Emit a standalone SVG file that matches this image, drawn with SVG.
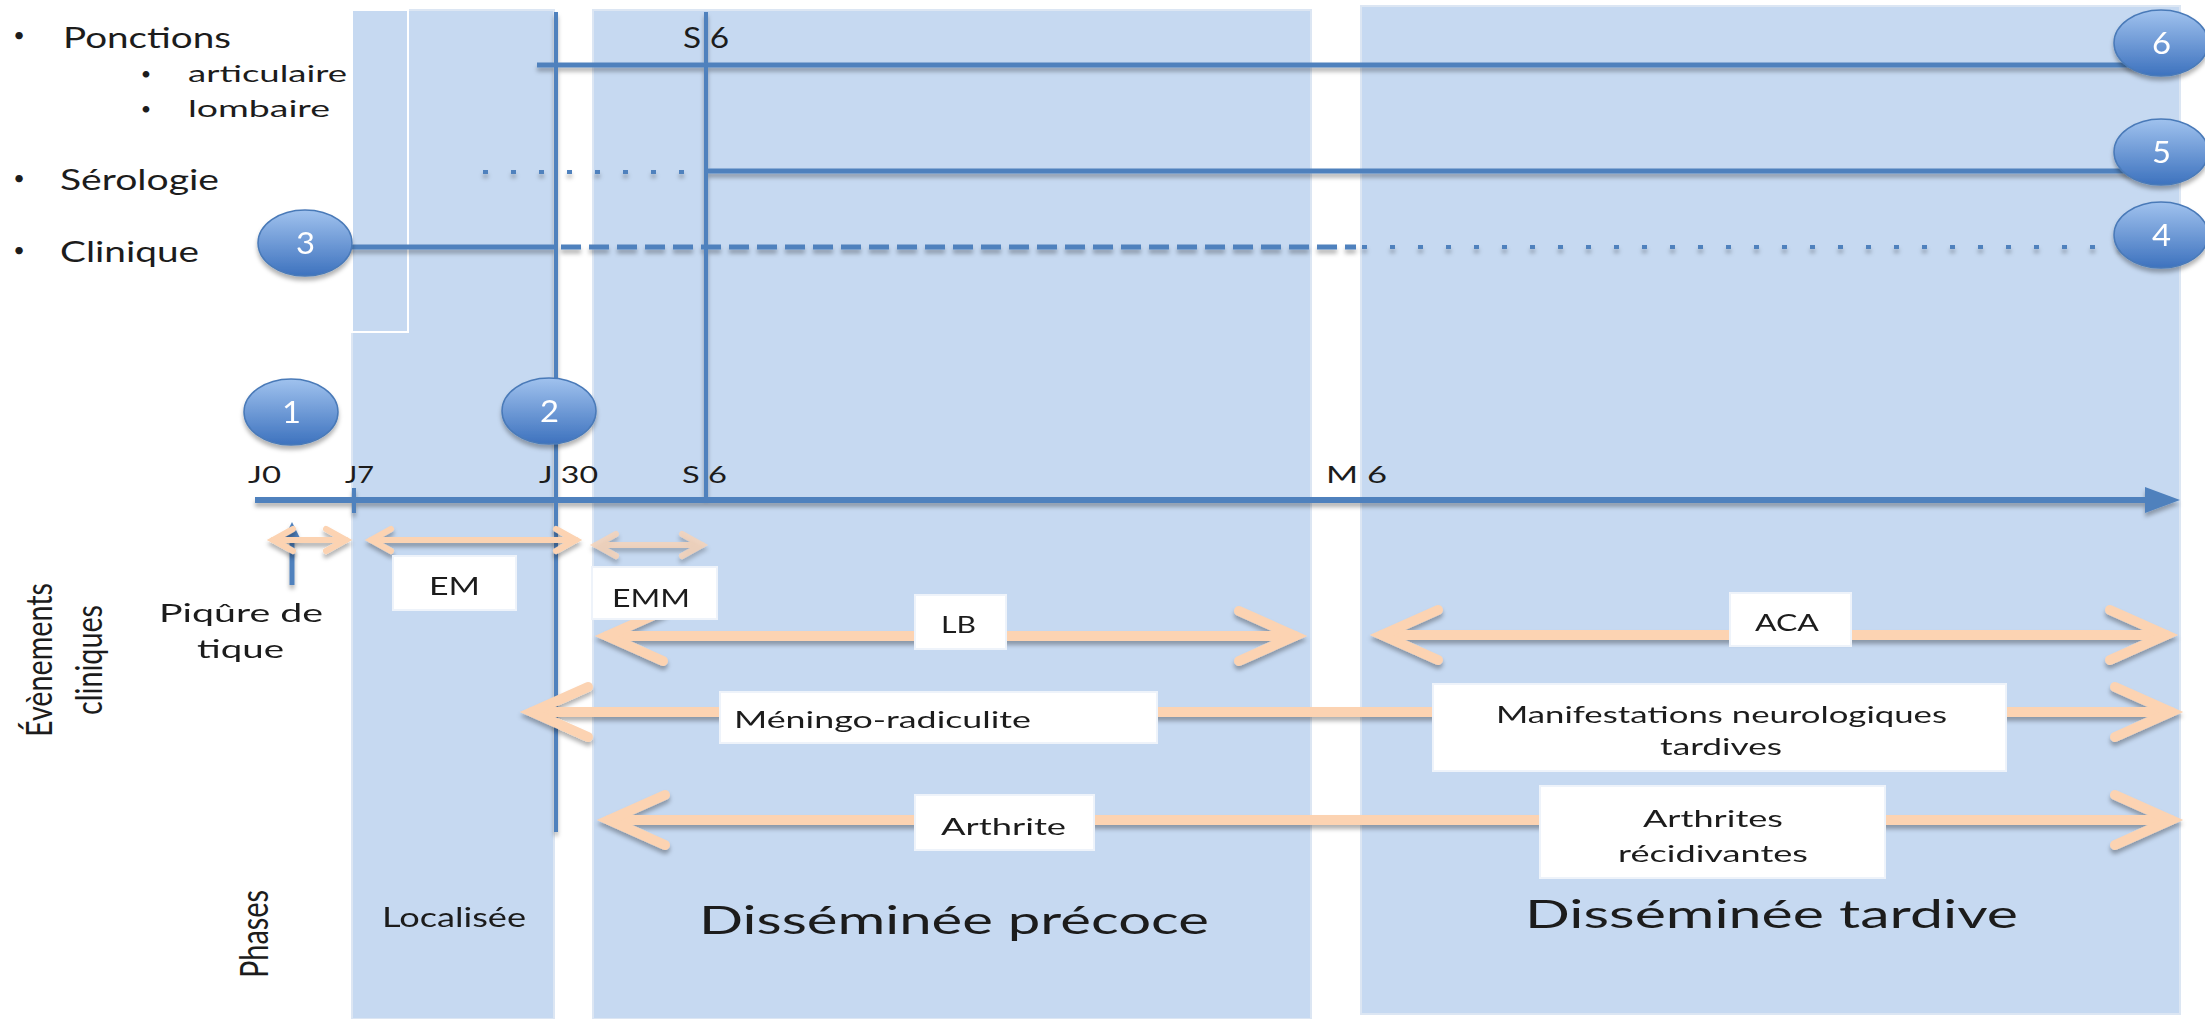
<svg xmlns="http://www.w3.org/2000/svg" width="2205" height="1019" viewBox="0 0 2205 1019">
<defs>
<style>
.panel{fill:#C6D9F1;stroke:#DCE6F3;stroke-width:2}
.t{font-family:Lato,'Liberation Sans',sans-serif;fill:#1c1c1c}
.bl{stroke:#4F81BD;fill:none}
.pe{stroke:#FCD3B2;fill:none;stroke-linecap:round;stroke-linejoin:miter}
.box{fill:#fff;stroke:#EEF3FA;stroke-width:2}
.num{font-family:Lato,'Liberation Sans',sans-serif;fill:#fff;font-size:30px}
.c{fill:url(#cg);stroke:#4A7AB8;stroke-width:1.5}
</style>
<filter id="sh" filterUnits="userSpaceOnUse" x="0" y="0" width="2205" height="1019">
<feDropShadow dx="0" dy="4" stdDeviation="2" flood-color="#000" flood-opacity="0.3"/>
</filter>
<linearGradient id="cg" x1="0" y1="0" x2="0" y2="1">
<stop offset="0" stop-color="#A0C2EE"/><stop offset="1" stop-color="#3D72BE"/>
</linearGradient>
</defs>
<rect width="2205" height="1019" fill="#fff"/>

<g id="phases">
<rect id="p-localisee" class="panel" x="352" y="10" width="202" height="1009"/>
<rect x="352" y="10" width="56" height="322" fill="#C6D9F1" stroke="#fff" stroke-width="2"/>
<rect id="p-precoce" class="panel" x="593" y="10" width="718" height="1009"/>
<rect id="p-tardive" class="panel" x="1361" y="6" width="819" height="1008"/>
</g>

<g id="connectors">
<g class="bl" filter="url(#sh)">
<line x1="556" y1="12" x2="556" y2="832" stroke-width="4"/>
<line x1="706" y1="12" x2="706" y2="500" stroke-width="4"/>
<line x1="537" y1="65" x2="2160" y2="65" stroke-width="5"/>
<line x1="483" y1="172" x2="690" y2="172" stroke-width="4" stroke-dasharray="5 23"/>
<line x1="708" y1="171" x2="2160" y2="171" stroke-width="5"/>
<line x1="305" y1="247" x2="558" y2="247" stroke-width="5"/>
<line x1="561" y1="247" x2="1356" y2="247" stroke-width="5" stroke-dasharray="20 8"/>
<line x1="1362" y1="247" x2="2150" y2="247" stroke-width="4" stroke-dasharray="5 23"/>
<line x1="255" y1="500" x2="2150" y2="500" stroke-width="6"/>
<polygon points="2145,487 2180,500 2145,513" fill="#4F81BD" stroke="none"/>
<line x1="354" y1="488" x2="354" y2="513" stroke-width="4"/>
<line x1="292" y1="585" x2="292" y2="535" stroke-width="5"/>
<polygon points="284,538 292,522 300,538" fill="#4F81BD" stroke="none"/>
</g>
<g class="pe" filter="url(#sh)">
<g stroke-width="6">
<line x1="273" y1="540" x2="346" y2="540"/>
<polyline points="293,529 273,540 293,551"/>
<polyline points="326,529 346,540 326,551"/>
<line x1="371" y1="540" x2="576" y2="540"/>
<polyline points="391,529 371,540 391,551"/>
<polyline points="556,529 576,540 556,551"/>
<g opacity="0.75">
<line x1="596" y1="545" x2="702" y2="545"/>
<polyline points="616,534 596,545 616,556"/>
<polyline points="682,534 702,545 682,556"/>
</g>
</g>
<g stroke-width="10">
<line x1="607" y1="636" x2="1295" y2="636"/>
<polyline points="663,611 607,636 663,661"/>
<polyline points="1239,611 1295,636 1239,661"/>
<line x1="1382" y1="635" x2="2166" y2="635"/>
<polyline points="1438,610 1382,635 1438,660"/>
<polyline points="2110,610 2166,635 2110,660"/>
<line x1="532" y1="712" x2="2171" y2="712"/>
<polyline points="588,687 532,712 588,737"/>
<polyline points="2115,687 2171,712 2115,737"/>
<line x1="609" y1="820" x2="2171" y2="820"/>
<polyline points="665,795 609,820 665,845"/>
<polyline points="2115,795 2171,820 2115,845"/>
</g>
</g>
</g>

<g id="markers" filter="url(#sh)">
<g id="n1"><ellipse class="c" cx="291" cy="412" rx="47" ry="33"/><text class="num" x="282" y="423" textLength="19" lengthAdjust="spacingAndGlyphs">1</text></g>
<g id="n2"><ellipse class="c" cx="549" cy="411" rx="47" ry="33"/><text class="num" x="540" y="422" textLength="19" lengthAdjust="spacingAndGlyphs">2</text></g>
<g id="n3"><ellipse class="c" cx="305" cy="243" rx="47" ry="33"/><text class="num" x="296" y="254" textLength="19" lengthAdjust="spacingAndGlyphs">3</text></g>
<g id="n4"><ellipse class="c" cx="2161" cy="235" rx="47" ry="33"/><text class="num" x="2152" y="246" textLength="19" lengthAdjust="spacingAndGlyphs">4</text></g>
<g id="n5"><ellipse class="c" cx="2161" cy="152" rx="47" ry="33"/><text class="num" x="2152" y="163" textLength="19" lengthAdjust="spacingAndGlyphs">5</text></g>
<g id="n6"><ellipse class="c" cx="2161" cy="43" rx="47" ry="33"/><text class="num" x="2152" y="54" textLength="19" lengthAdjust="spacingAndGlyphs">6</text></g>
</g>

<g id="left-list" class="t">
<text x="19" y="42" font-size="20" text-anchor="middle">•</text>
<text x="63" y="48" font-size="28" textLength="168" lengthAdjust="spacingAndGlyphs">Ponctions</text>
<text x="146" y="80" font-size="18" text-anchor="middle">•</text>
<text x="188" y="82" font-size="24" textLength="159" lengthAdjust="spacingAndGlyphs">articulaire</text>
<text x="146" y="115" font-size="18" text-anchor="middle">•</text>
<text x="188" y="117" font-size="24" textLength="142" lengthAdjust="spacingAndGlyphs">lombaire</text>
<text x="19" y="185" font-size="20" text-anchor="middle">•</text>
<text x="60" y="190" font-size="28" textLength="159" lengthAdjust="spacingAndGlyphs">Sérologie</text>
<text x="19" y="257" font-size="20" text-anchor="middle">•</text>
<text x="60" y="262" font-size="28" textLength="139" lengthAdjust="spacingAndGlyphs">Clinique</text>
</g>

<g id="time-labels" class="t" font-size="24">
<text x="683" y="48" font-size="28" textLength="46" lengthAdjust="spacingAndGlyphs">S 6</text>
<text x="248" y="483" textLength="33" lengthAdjust="spacingAndGlyphs">J0</text>
<text x="345" y="483" textLength="29" lengthAdjust="spacingAndGlyphs">J7</text>
<text x="539" y="483" textLength="59" lengthAdjust="spacingAndGlyphs">J 30</text>
<text x="682" y="483" textLength="45" lengthAdjust="spacingAndGlyphs">S 6</text>
<text x="1326" y="483" textLength="61" lengthAdjust="spacingAndGlyphs">M 6</text>
</g>

<g id="axis-titles" class="t" font-size="26">
<text transform="translate(52,737) scale(1.406,1) rotate(-90)" textLength="154" lengthAdjust="spacingAndGlyphs">Évènements</text>
<text transform="translate(102,715) scale(1.406,1) rotate(-90)" textLength="110" lengthAdjust="spacingAndGlyphs">cliniques</text>
<text transform="translate(268,978) scale(1.406,1) rotate(-90)" font-size="28" textLength="88" lengthAdjust="spacingAndGlyphs">Phases</text>
</g>

<g id="piqure" class="t" font-size="25">
<text x="159" y="622" textLength="164" lengthAdjust="spacingAndGlyphs">Piqûre de</text>
<text x="197" y="658" textLength="87" lengthAdjust="spacingAndGlyphs">tique</text>
</g>

<g id="events" class="t" font-size="24">
<g id="em"><rect class="box" x="393" y="556" width="123" height="54"/><text x="429" y="595" font-size="25" textLength="51" lengthAdjust="spacingAndGlyphs">EM</text></g>
<g id="emm"><rect class="box" x="592" y="567" width="125" height="52"/><text x="612" y="607" font-size="25" textLength="78" lengthAdjust="spacingAndGlyphs">EMM</text></g>
<g id="lb"><rect class="box" x="915" y="595" width="91" height="54"/><text x="941" y="633" textLength="35" lengthAdjust="spacingAndGlyphs">LB</text></g>
<g id="aca"><rect class="box" x="1730" y="593" width="121" height="53"/><text x="1755" y="631" textLength="64" lengthAdjust="spacingAndGlyphs">ACA</text></g>
<g id="meningo"><rect class="box" x="720" y="692" width="437" height="51"/><text x="734" y="728" textLength="297" lengthAdjust="spacingAndGlyphs">Méningo-radiculite</text></g>
<g id="manif"><rect class="box" x="1433" y="684" width="573" height="87"/><text x="1496" y="723" textLength="451" lengthAdjust="spacingAndGlyphs">Manifestations neurologiques</text><text x="1660" y="755" textLength="122" lengthAdjust="spacingAndGlyphs">tardives</text></g>
<g id="arthrite"><rect class="box" x="915" y="795" width="179" height="55"/><text x="941" y="835" textLength="125" lengthAdjust="spacingAndGlyphs">Arthrite</text></g>
<g id="arthrites-rec"><rect class="box" x="1540" y="786" width="345" height="92"/><text x="1643" y="827" textLength="140" lengthAdjust="spacingAndGlyphs">Arthrites</text><text x="1618" y="862" textLength="190" lengthAdjust="spacingAndGlyphs">récidivantes</text></g>
</g>

<g id="phase-labels" class="t">
<text x="382" y="927" font-size="26" textLength="144" lengthAdjust="spacingAndGlyphs">Localisée</text>
<text x="699" y="934" font-size="39" textLength="510" lengthAdjust="spacingAndGlyphs">Disséminée précoce</text>
<text x="1525" y="928" font-size="39" textLength="493" lengthAdjust="spacingAndGlyphs">Disséminée tardive</text>
</g>
</svg>
